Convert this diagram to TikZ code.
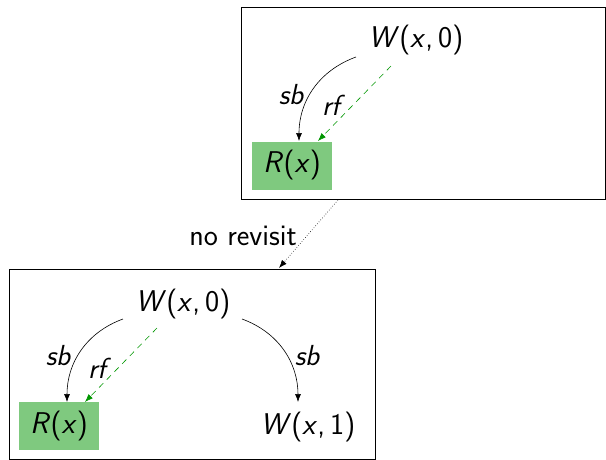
\documentclass[tikz,border=0pt]{standalone}
\usetikzlibrary{arrows.meta}
\definecolor{evgreen}{RGB}{127,201,127}
\definecolor{rfgreen}{RGB}{0,150,0}
\newcommand{\mv}[1]{\textsf{\textit{#1}}}
\begin{document}
\begin{tikzpicture}[x=1pt,y=-1pt,
  every node/.style={font=\sffamily\fontsize{30}{36}\selectfont, inner sep=0pt},
  evbox/.style={fill=evgreen, minimum width=80pt, minimum height=48pt},
  frame/.style={draw, line width=0.8pt},
  sbarrow/.style={-{Latex[length=8pt,width=6pt]}, line width=0.6pt},
  rfarrow/.style={-{Latex[length=8pt,width=6pt]}, dashed, dash pattern=on 6pt off 5pt, rfgreen, line width=0.6pt},
  lbl/.style={font=\sffamily\itshape\fontsize{29}{34}\selectfont}]
\useasboundingbox (0,0) rectangle (606,459);
% top box
\node[frame, minimum width=364pt, minimum height=192pt, anchor=north west] (top) at (241,7) {};
\node (tw) at (416,40) {\mv{W}(\mv{x},\,0)};
\node[evbox] (tr) at (292,165.5) {\mv{R}(\mv{x})};
\coordinate (tws) at (356,57);
\coordinate (twr) at (391,66);
\coordinate (trs) at (299,141);
\coordinate (trr) at (318,141);
\draw[sbarrow] (tws) to[out=200, in=90] (trs);
\draw[rfarrow] (twr) -- (trr);
\node[lbl] (tsb) at (291,95) {sb};
\node[lbl] (trf) at (331,105) {rf};
% bottom box
\node[frame, minimum width=366pt, minimum height=190pt, anchor=north west] (bot) at (9,269) {};
\node (bw) at (183,304) {\mv{W}(\mv{x},\,0)};
\node[evbox] (br) at (59,426) {\mv{R}(\mv{x})};
\node (bw1) at (308,427) {\mv{W}(\mv{x},\,1)};
\coordinate (bws) at (123,319);
\coordinate (bwr) at (157,328);
\coordinate (bwt) at (242,319);
\coordinate (brs) at (67,402);
\coordinate (brr) at (85,402);
\coordinate (bw1t) at (298,402);
\draw[sbarrow] (bws) to[out=200, in=90] (brs);
\draw[rfarrow] (bwr) -- (brr);
\draw[sbarrow] (bwt) to[out=-20, in=90] (bw1t);
\node[lbl] (bsb) at (58,356) {sb};
\node[lbl] (brf) at (97,368) {rf};
\node[lbl] (bsb2) at (307,356) {sb};
% connector
\coordinate (cs) at (338,200);
\coordinate (ce) at (279,268);
\draw[dotted, line width=0.6pt, -{Latex[length=8pt,width=6pt]}] (cs) -- (ce);
\node (nr) at (243,236) {no revisit};
\end{tikzpicture}
\end{document}
